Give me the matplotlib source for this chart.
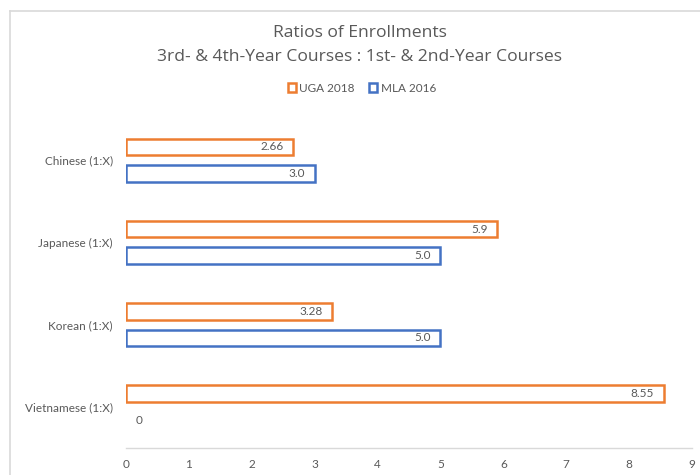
import matplotlib
matplotlib.use("Agg")
import matplotlib.pyplot as plt
from matplotlib.patches import Patch
from matplotlib.lines import Line2D
import numpy as np

categories = ["Chinese (1:X)", "Japanese (1:X)", "Korean (1:X)", "Vietnamese (1:X)"]
uga_2018 = [2.66, 5.9, 3.28, 8.55]
mla_2016 = [3.0, 5.0, 5.0, 0.0]
uga_labels = ["2.66", "5.9", "3.28", "8.55"]
mla_labels = ["3.0", "5.0", "5.0", "0"]
series_names = ["UGA 2018", "MLA 2016"]
x_ticks = [0, 1, 2, 3, 4, 5, 6, 7, 8, 9]

ORANGE = "#ED7D31"
BLUE = "#4472C4"
GRAY = "#595959"
FONT = "Lato"

plt.rcParams['font.family'] = [FONT, 'DejaVu Sans']

fig = plt.figure(figsize=(7, 4.75), dpi=100)
fig.patch.set_facecolor("white")

# outer frame lines (cropped chart border)
fig.add_artist(Line2D([10/700, 10/700], [0, 1 - 11/475], color="#d9d9d9", lw=1.2,
                      transform=fig.transFigure))
fig.add_artist(Line2D([10/700, 1], [1 - 11/475, 1 - 11/475], color="#d9d9d9", lw=1.2,
                      transform=fig.transFigure))

ax = fig.add_axes([126/700, 1 - 448/475, (692 - 126)/700, (448 - 119)/475])

y = np.arange(len(categories))
off = 0.16
h = 0.2
lw_u = [1.8 if v > 0 else 0 for v in uga_2018]
lw_m = [1.8 if v > 0 else 0 for v in mla_2016]
ax.barh(y - off, uga_2018, height=h, facecolor="white", edgecolor=ORANGE, linewidth=lw_u)
ax.barh(y + off, mla_2016, height=h, facecolor="white", edgecolor=BLUE, linewidth=lw_m)

for yi, v, lab in zip(y, uga_2018, uga_labels):
    if v > 0:
        ax.annotate(lab, (v, yi - off), xytext=(-7, 0), textcoords="offset points",
                    ha="right", va="center", fontsize=8.5, color=GRAY)
    else:
        ax.annotate(lab, (v, yi - off), xytext=(7, 0), textcoords="offset points",
                    ha="left", va="center", fontsize=8.5, color=GRAY)
for yi, v, lab in zip(y, mla_2016, mla_labels):
    if v > 0:
        ax.annotate(lab, (v, yi + off), xytext=(-7, 0), textcoords="offset points",
                    ha="right", va="center", fontsize=8.5, color=GRAY)
    else:
        ax.annotate(lab, (v, yi + off), xytext=(7, 0), textcoords="offset points",
                    ha="left", va="center", fontsize=8.5, color=GRAY)

ax.set_xlim(0, 9)
ax.set_ylim(3.5, -0.5)
ax.set_xticks(x_ticks)
ax.set_xticklabels([str(t) for t in x_ticks], fontsize=8.5, color=GRAY)
ax.set_yticks(y)
ax.set_yticklabels(categories, fontsize=8.5, color=GRAY)
ax.tick_params(axis="both", length=0)
ax.tick_params(axis="x", pad=8)
ax.tick_params(axis="y", pad=9.5)
for s in ["top", "right", "left"]:
    ax.spines[s].set_visible(False)
ax.spines["bottom"].set_color("#d9d9d9")
ax.spines["bottom"].set_linewidth(1)

fig.text(360/700, 1 - 33/475, "Ratios of Enrollments", ha="center", va="center",
         fontsize=12.6, color=GRAY, family=["Open Sans", "DejaVu Sans"])
fig.text(360/700, 1 - 57/475, "3rd- & 4th-Year Courses : 1st- & 2nd-Year Courses",
         ha="center", va="center", fontsize=12.6, color=GRAY, family=["Open Sans", "DejaVu Sans"])

handles = [Patch(facecolor="white", edgecolor=ORANGE, linewidth=1.8, label=series_names[0]),
           Patch(facecolor="white", edgecolor=BLUE, linewidth=1.8, label=series_names[1])]
leg = fig.legend(handles=handles, loc="center", bbox_to_anchor=(362/700, 1 - 88/475), ncol=2,
                 frameon=False, fontsize=8.5, handlelength=0.7, handleheight=0.7,
                 handletextpad=0.3, columnspacing=1.2)
for t in leg.get_texts():
    t.set_color(GRAY)

fig.savefig("out.png", dpi=100, facecolor="white")
